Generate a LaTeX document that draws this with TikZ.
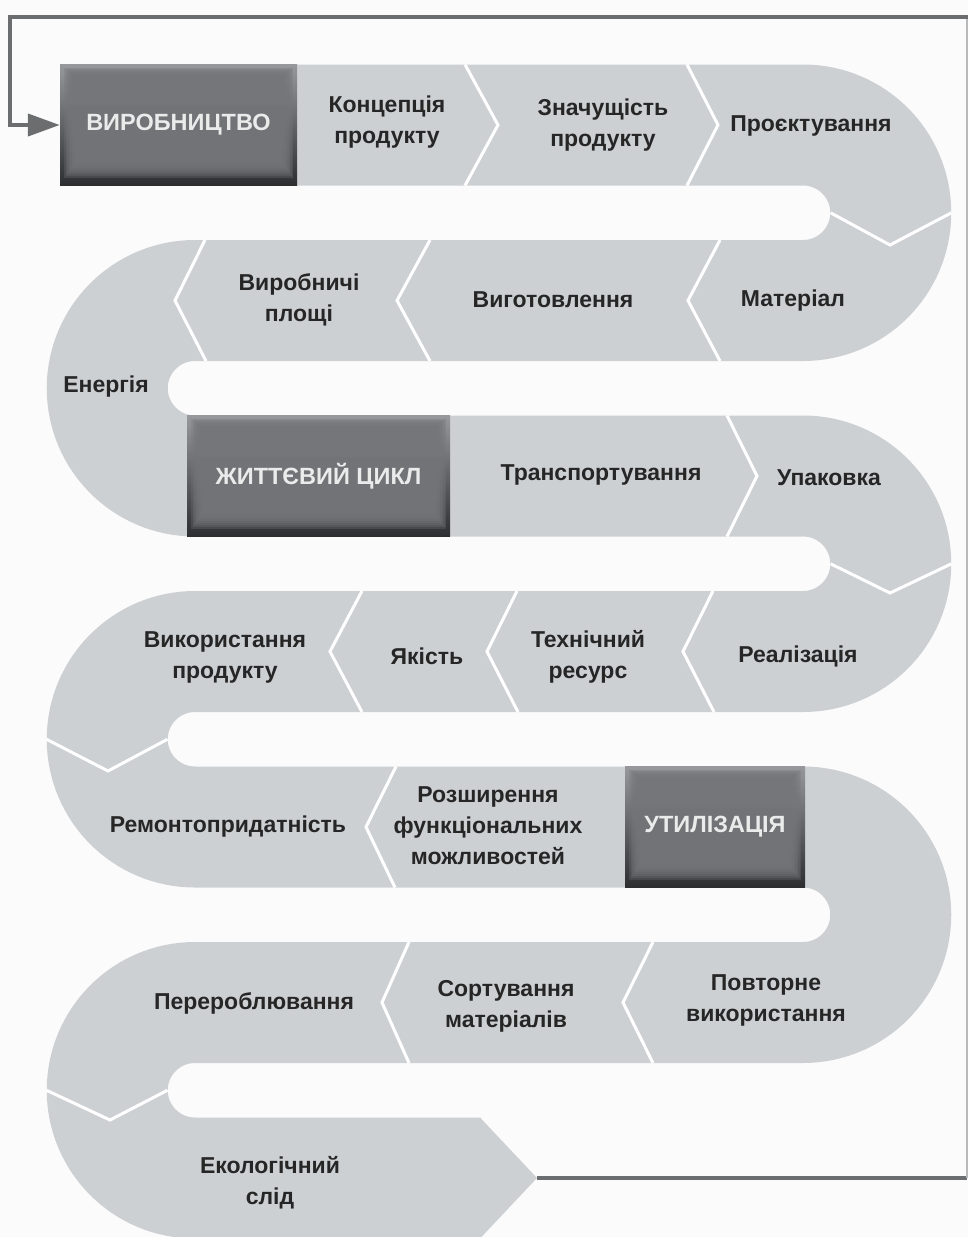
\documentclass[tikz,border=0pt]{standalone}
\usepackage{fontspec}
\setmainfont{Liberation Sans}
\usetikzlibrary{arrows.meta}
\definecolor{bandc}{RGB}{205,208,211}
\definecolor{bgc}{RGB}{251,251,251}
\definecolor{txtc}{RGB}{38,38,38}
\definecolor{framec}{RGB}{108,109,111}
\definecolor{framelight}{RGB}{185,186,188}
\definecolor{boxtop}{RGB}{150,152,155}
\definecolor{boxbot}{RGB}{45,46,48}
\definecolor{boxmid}{RGB}{116,118,121}
\begin{document}
\begin{tikzpicture}[x=1pt,y=-1pt,
  lbl/.style={font=\bfseries\fontsize{23}{31}\selectfont, text=txtc, align=center, inner sep=0pt},
  divider/.style={draw=white, line width=3pt, line join=miter, line cap=butt},
  darkbox/.style={minimum width=#1, minimum height=121pt, inner sep=0pt, text=white!92!black,
    font=\bfseries\fontsize{23.5}{26}\selectfont, top color=boxtop, bottom color=boxbot,
    path picture={
      \foreach \n in {0,...,8}{
        \fill[boxmid, opacity=0.3]
          ([xshift={4pt+1.5pt*\n}, yshift={8pt+2pt*\n}]path picture bounding box.south west)
          rectangle
          ([xshift={-4pt-1.5pt*\n}, yshift={-3pt-1.2pt*\n}]path picture bounding box.north east);
      }
    }},
  framel/.style={draw=framec, line width=4pt},
  framethin/.style={draw=framelight, line width=2pt}
]
\useasboundingbox (0,0) rectangle (968,1237);
\clip (0,0) rectangle (968,1237);
\fill[bgc] (0,0) rectangle (968,1237);

% serpentine band
\draw[bandc, line width=121pt, line cap=butt]
  (60,125) -- (803,125) arc[start angle=-90, end angle=90, radius=87.75]
  -- (195,300.5) arc[start angle=-90, end angle=-270, radius=87.75]
  -- (803,476) arc[start angle=-90, end angle=90, radius=87.75]
  -- (195,651.5) arc[start angle=-90, end angle=-270, radius=87.75]
  -- (803,827) arc[start angle=-90, end angle=90, radius=87.75]
  -- (195,1002.5) arc[start angle=-90, end angle=-270, radius=87.75]
  -- (481,1178);
\fill[bandc] (480,1117.5) -- (537,1178) -- (480,1238.5) -- cycle;

% dividers
\draw[divider] (465,64.5) -- (498,125) -- (465,185.5);
\draw[divider] (687,64.5) -- (718,125) -- (687,185.5);
\draw[divider] (830.5,212.75) -- (890,245) -- (951.5,212.75);
\draw[divider] (720,240) -- (688,300.5) -- (720,361);
\draw[divider] (430,240) -- (397,300.5) -- (430,361);
\draw[divider] (205,240) -- (175,300.5) -- (206,361);
\draw[divider] (727,415.5) -- (757,476) -- (727,536.5);
\draw[divider] (830.5,563.75) -- (890,593) -- (951.5,563.75);
\draw[divider] (713,591) -- (683,651.5) -- (714,712);
\draw[divider] (517,591) -- (487,651.5) -- (518,712);
\draw[divider] (362,591) -- (330,651.5) -- (362,712);
\draw[divider] (167.5,739.25) -- (108,771) -- (46.5,739.25);
\draw[divider] (396,766.5) -- (366,827) -- (395,887.5);
\draw[divider] (653,942) -- (623,1002.5) -- (653,1063);
\draw[divider] (409,942) -- (382,1002.5) -- (409,1063);
\draw[divider] (167.5,1090.25) -- (110,1120) -- (46.5,1090.25);

% dark boxes
\node[darkbox=237pt] (vyr) at (178.5,125) {ВИРОБНИЦТВО};
\node[darkbox=263pt] (zhc) at (318.5,476) {ЖИТТЄВИЙ ЦИКЛ};
\node[darkbox=180pt] (util) at (715,827) {УТИЛІЗАЦІЯ};

% labels
\node[lbl] (konc) at (387,122) {Концепція\\продукту};
\node[lbl] (znach) at (603,125) {Значущість\\продукту};
\node[lbl] (proekt) at (811,126) {Проєктування};
\node[lbl] (mater) at (793,301) {Матеріал};
\node[lbl] (vyhot) at (553,300) {Виготовлення};
\node[lbl] (ploshchi) at (299,300) {Виробничі\\площі};
\node[lbl] (enerh) at (106,387) {Енергія};
\node[lbl] (transp) at (601,475) {Транспортування};
\node[lbl] (upak) at (829,478) {Упаковка};
\node[lbl] (real) at (798,656) {Реалізація};
\node[lbl] (tekhn) at (588,657) {Технічний\\ресурс};
\node[lbl] (yakist) at (427,656) {Якість};
\node[lbl] (vykor) at (225,657) {Використання\\продукту};
\node[lbl] (remont) at (228,827) {Ремонтопридатність};
\node[lbl] (rozsh) at (488,826) {Розширення\\функціональних\\можливостей};
\node[lbl] (povt) at (766,1000) {Повторне\\використання};
\node[lbl] (sort) at (506,1006) {Сортування\\матеріалів};
\node[lbl] (pererob) at (254,1003) {Перероблювання};
\node[lbl] (ekol) at (270,1183) {Екологічний\\слід};

% frame connector
\coordinate (tip) at (537,1178);
\coordinate (br) at (967,1178);
\coordinate (tr) at (967,17);
\coordinate (tl) at (10,17);
\coordinate (ml) at (10,125);
\draw[framel] (tip) -- (br);
\draw[framethin] (br) -- (tr);
\draw[framel, -{Triangle[length=32pt,width=22pt]}] ([xshift=2pt]tr) -- (tl) -- (ml) -- (vyr.west);
\end{tikzpicture}
\end{document}
